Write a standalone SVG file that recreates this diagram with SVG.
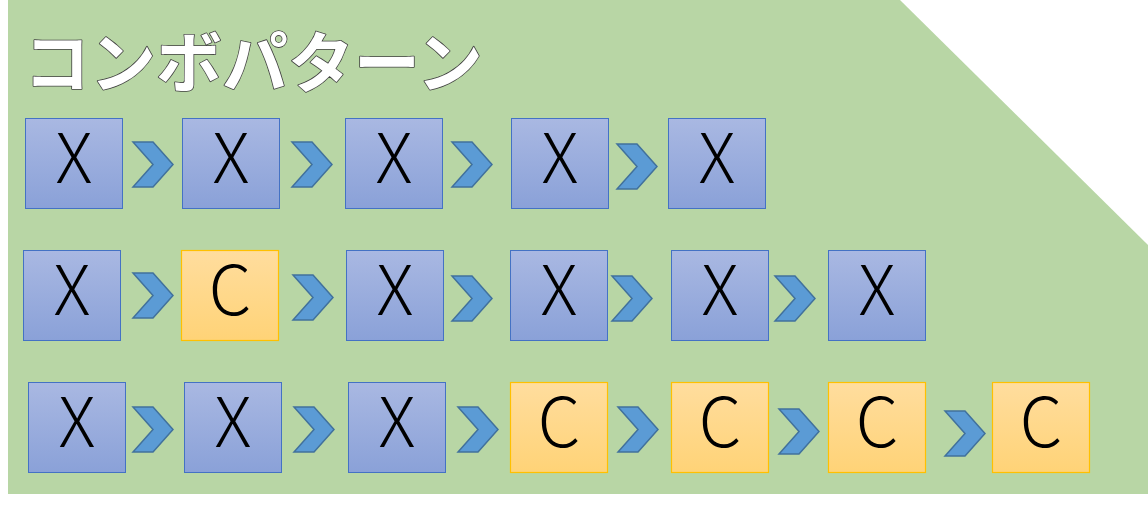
<svg xmlns="http://www.w3.org/2000/svg" width="1148" height="508" viewBox="0 0 1148 508">
<defs>
<linearGradient id="gb" x1="0" y1="0" x2="0" y2="1"><stop offset="0" stop-color="#a9b8e2"/><stop offset="1" stop-color="#8aa1d8"/></linearGradient>
<linearGradient id="go" x1="0" y1="0" x2="0" y2="1"><stop offset="0" stop-color="#ffdd9e"/><stop offset="1" stop-color="#ffd377"/></linearGradient>
<path id="chev" d="M0,0 H20 L40,22.5 L20,45 H0 L20,22.5 Z"/>
</defs>
<style>
.x rect{fill:url(#gb);stroke:#4472c4;stroke-width:1}
.c rect{fill:url(#go);stroke:#ffc000;stroke-width:1.2}
.t{font-family:"Noto Sans CJK JP","Liberation Sans",sans-serif;font-size:68px;font-weight:300;fill:#000;text-anchor:middle}
.ch{fill:#5b9bd5;stroke:#41719c;stroke-width:1.5}
.title{font-family:"Noto Sans CJK JP","Liberation Sans",sans-serif;font-size:66px;font-weight:700;fill:#fff;stroke:#404040;stroke-width:1.6;paint-order:stroke;stroke-linejoin:round}
</style>
<polygon points="8,0 900,0 1148,245 1148,494 8,494" fill="#b8d6a5"/>
<text class="title" x="24" y="87">コンボパターン</text>
<g id="connectors">
<use href="#chev" class="ch" x="133" y="142"/>
<use href="#chev" class="ch" x="292" y="142"/>
<use href="#chev" class="ch" x="452" y="142"/>
<use href="#chev" class="ch" x="617" y="144"/>
<use href="#chev" class="ch" x="133" y="273"/>
<use href="#chev" class="ch" x="293" y="275"/>
<use href="#chev" class="ch" x="452" y="276"/>
<use href="#chev" class="ch" x="612" y="276"/>
<use href="#chev" class="ch" x="775" y="276"/>
<use href="#chev" class="ch" x="133" y="407"/>
<use href="#chev" class="ch" x="294" y="407"/>
<use href="#chev" class="ch" x="458" y="407"/>
<use href="#chev" class="ch" x="618" y="407"/>
<use href="#chev" class="ch" x="779" y="409"/>
<use href="#chev" class="ch" x="945" y="411"/>
</g>
<g id="r1n1" class="x"><rect x="25.5" y="118.5" width="97" height="90"/><text class="t" x="74" y="183">X</text></g>
<g id="r1n2" class="x"><rect x="182.5" y="118.5" width="97" height="90"/><text class="t" x="231" y="183">X</text></g>
<g id="r1n3" class="x"><rect x="345.5" y="118.5" width="97" height="90"/><text class="t" x="394" y="183">X</text></g>
<g id="r1n4" class="x"><rect x="511.5" y="118.5" width="97" height="90"/><text class="t" x="560" y="183">X</text></g>
<g id="r1n5" class="x"><rect x="668.5" y="118.5" width="97" height="90"/><text class="t" x="717" y="183">X</text></g>

<g id="r2n1" class="x"><rect x="23.5" y="250.5" width="97" height="90"/><text class="t" x="72" y="315">X</text></g>
<g id="r2n2" class="c"><rect x="181.5" y="250.5" width="97" height="90"/><text class="t" x="230" y="315">C</text></g>
<g id="r2n3" class="x"><rect x="346.5" y="250.5" width="97" height="90"/><text class="t" x="395" y="315">X</text></g>
<g id="r2n4" class="x"><rect x="510.5" y="250.5" width="97" height="90"/><text class="t" x="559" y="315">X</text></g>
<g id="r2n5" class="x"><rect x="671.5" y="250.5" width="97" height="90"/><text class="t" x="720" y="315">X</text></g>
<g id="r2n6" class="x"><rect x="828.5" y="250.5" width="97" height="90"/><text class="t" x="877" y="315">X</text></g>

<g id="r3n1" class="x"><rect x="28.5" y="382.5" width="97" height="90"/><text class="t" x="77" y="447">X</text></g>
<g id="r3n2" class="x"><rect x="184.5" y="382.5" width="97" height="90"/><text class="t" x="233" y="447">X</text></g>
<g id="r3n3" class="x"><rect x="348.5" y="382.5" width="97" height="90"/><text class="t" x="397" y="447">X</text></g>
<g id="r3n4" class="c"><rect x="510.5" y="382.5" width="97" height="90"/><text class="t" x="559" y="447">C</text></g>
<g id="r3n5" class="c"><rect x="671.5" y="382.5" width="97" height="90"/><text class="t" x="720" y="447">C</text></g>
<g id="r3n6" class="c"><rect x="828.5" y="382.5" width="97" height="90"/><text class="t" x="877" y="447">C</text></g>
<g id="r3n7" class="c"><rect x="992.5" y="382.5" width="97" height="90"/><text class="t" x="1041" y="447">C</text></g>
</svg>
